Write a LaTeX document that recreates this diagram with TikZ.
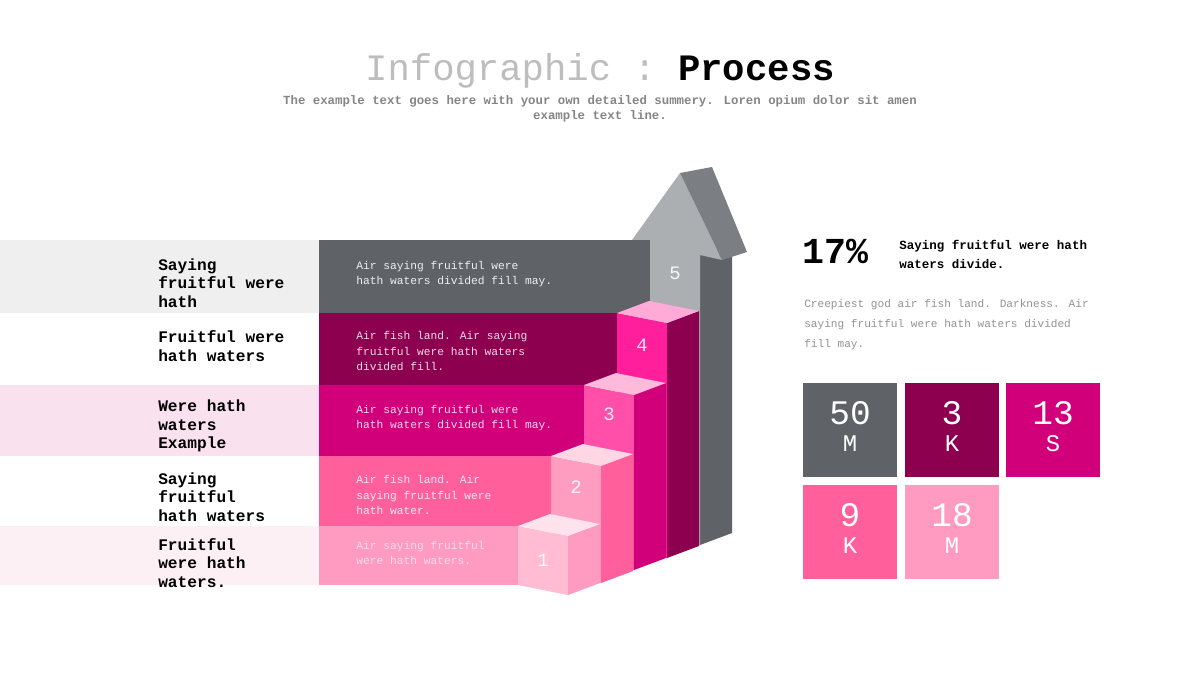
\documentclass[tikz,border=0pt]{standalone}
\usepackage{fontspec}
\setmainfont{Liberation Mono}
\usetikzlibrary{calc}

\definecolor{bargray}{HTML}{5F6266}
\definecolor{barplum}{HTML}{8C004F}
\definecolor{barmagenta}{HTML}{D1007A}
\definecolor{barpink}{HTML}{FF5F9B}
\definecolor{barlight}{HTML}{FF9AC0}
\definecolor{stemfront}{HTML}{ABAFB2}
\definecolor{headside}{HTML}{7B7F83}
\definecolor{cfourfront}{HTML}{FF1F9B}
\definecolor{cfourtop}{HTML}{FFAAD7}
\definecolor{cthreefront}{HTML}{FF4FA8}
\definecolor{cthreetop}{HTML}{FFBADB}
\definecolor{ctwofront}{HTML}{FF9DC0}
\definecolor{ctwotop}{HTML}{FFD6E4}
\definecolor{conefront}{HTML}{FFBCD2}
\definecolor{conetop}{HTML}{FFE3EC}
\definecolor{bandgray}{HTML}{EFEFEF}
\definecolor{bandpink}{HTML}{F9E1EE}
\definecolor{bandpale}{HTML}{FDF0F5}
\definecolor{titlegray}{HTML}{BDBDBD}
\definecolor{subgray}{HTML}{858585}
\definecolor{paragray}{HTML}{939393}

\tikzstyle{labelstyle}=[anchor=west,align=left,inner sep=0pt,font=\fontsize{11.5}{13.2}\selectfont\bfseries]
\tikzstyle{descstyle}=[anchor=west,align=left,inner sep=0pt,font=\fontsize{8}{10.7}\selectfont]
\tikzstyle{numstyle}=[inner sep=0pt,text=white,text opacity=0.9,font=\fontsize{13.5}{13.5}\selectfont]
\tikzstyle{tilestyle}=[minimum size=2.35cm,inner sep=0pt]
\tikzstyle{tilebig}=[inner sep=0pt,text=white,font=\fontsize{24.5}{24.5}\selectfont]
\tikzstyle{tilesmall}=[inner sep=0pt,text=white,font=\fontsize{17}{17}\selectfont]

\begin{document}
\begin{tikzpicture}[x=0.025cm,y=-0.025cm]

      % page is laid out in pixels, y pointing down
      \fill[white] (0,0) rectangle (1200,675);
      \useasboundingbox (0,0) rectangle (1200,675);

      \def\fw{50} % width of a cube front
      \def\fs{10} % slant of a cube front
      \def\dx{32} % depth of a cube, horizontal
      \def\dy{-12} % depth of a cube, vertical

      % title
      \node (title) at (600,71) {\fontsize{26.5}{30}\selectfont\color{titlegray}Infographic :\color{black}\bfseries\ Process};
      \node[align=center,text=subgray,font=\fontsize{8.8}{10.6}\selectfont\bfseries] (subtitle) at (600,109)
        {The example text goes here with your own detailed summery. Loren opium dolor sit amen\\example text line.};

      % left bands
      \fill[bandgray] (0,240) rectangle (319,313);
      \fill[bandpink] (0,385) rectangle (319,456);
      \fill[bandpale] (0,526) rectangle (319,585);

      % arrow on top (step 5)
      \fill[bargray] (700,255) --++(\dx,\dy) --++(0,290) --++(-\dx,-\dy) -- cycle;
      \fill[stemfront] (650,240) -- (632,240) -- (680,173) -- (722,260) -- (700,255) -- (700,545) -- (650,545) -- cycle;
      \fill[headside] (680,173) -- (712,167) -- (747,252) -- (722,260) -- cycle;

      % flat bars
      \fill[bargray] (319,240) rectangle (650,313);
      \fill[barplum] (319,313) rectangle (617,385);
      \fill[barmagenta] (319,385) rectangle (584,456);
      \fill[barpink] (319,456) rectangle (551,526);
      \fill[barlight] (319,526) rectangle (518,585);

      % cube 4
      \fill[cfourfront] (617,313) --++(\fw,\fs) --++(0,235) --++(-\fw,-\fs) -- cycle;
      \fill[barplum] (667,323) --++(\dx,\dy) --++(0,235) --++(-\dx,-\dy) -- cycle;
      \fill[cfourtop] (617,313) --++(\fw,\fs) --++(\dx,\dy) --++(-\fw,-\fs) -- cycle;
      % cube 3
      \fill[cthreefront] (584,385) --++(\fw,\fs) --++(0,175) --++(-\fw,-\fs) -- cycle;
      \fill[barmagenta] (634,395) --++(\dx,\dy) --++(0,175) --++(-\dx,-\dy) -- cycle;
      \fill[cthreetop] (584,385) --++(\fw,\fs) --++(\dx,\dy) --++(-\fw,-\fs) -- cycle;
      % cube 2
      \fill[ctwofront] (551,456) --++(\fw,\fs) --++(0,117) --++(-\fw,-\fs) -- cycle;
      \fill[barpink] (601,466) --++(\dx,\dy) --++(0,117) --++(-\dx,-\dy) -- cycle;
      \fill[ctwotop] (551,456) --++(\fw,\fs) --++(\dx,\dy) --++(-\fw,-\fs) -- cycle;
      % cube 1
      \fill[conefront] (518,526) --++(\fw,\fs) --++(0,59) --++(-\fw,-\fs) -- cycle;
      \fill[barlight] (568,536) --++(\dx,\dy) --++(0,59) --++(-\dx,-\dy) -- cycle;
      \fill[conetop] (518,526) --++(\fw,\fs) --++(\dx,\dy) --++(-\fw,-\fs) -- cycle;

      % step numbers
      \node[numstyle] (n1) at (543,560) {1};
      \node[numstyle] (n2) at (576,487) {2};
      \node[numstyle] (n3) at (609,414) {3};
      \node[numstyle] (n4) at (642,345) {4};
      \node[numstyle] (n5) at (675,273) {5};

      % left labels
      \node[labelstyle] (l5) at (158,283) {Saying\\fruitful were\\hath};
      \node[labelstyle] (l4) at (158,346) {Fruitful were\\hath waters};
      \node[labelstyle] (l3) at (158,426) {Were hath\\waters\\Example};
      \node[labelstyle] (l2) at (158,497) {Saying\\fruitful\\hath waters};
      \node[labelstyle] (l1) at (158,563) {Fruitful\\were hath\\waters.};

      % bar texts
      \node[descstyle,text=white!90!bargray] (d5) at (356,274) {Air saying fruitful were\\hath waters divided fill may.};
      \node[descstyle,text=white!85!barplum] (d4) at (356,351) {Air fish land. Air saying\\fruitful were hath waters\\divided fill.};
      \node[descstyle,text=white!85!barmagenta] (d3) at (356,418) {Air saying fruitful were\\hath waters divided fill may.};
      \node[descstyle,text=white!85!barpink] (d2) at (356,495) {Air fish land. Air\\saying fruitful were\\hath water.};
      \node[descstyle,text=white!65!barlight] (d1) at (356,553) {Air saying fruitful\\were hath waters.};

      % right block
      \node[anchor=west,inner sep=0pt,font=\fontsize{26}{26}\selectfont\bfseries] (pct) at (802,251) {17\%};
      \node[anchor=west,align=left,inner sep=0pt,font=\fontsize{8.9}{13.5}\selectfont\bfseries] (pcttext) at (899,254)
        {Saying fruitful were hath\\waters divide.};
      \node[anchor=west,align=left,inner sep=0pt,text=paragray,font=\fontsize{7.9}{14.2}\selectfont] (para) at (804,325)
        {Creepiest god air fish land. Darkness. Air\\saying fruitful were hath waters divided\\fill may.};

      % tiles
      \node[tilestyle,fill=bargray] (t1) at (850,430) {};
      \node[tilestyle,fill=barplum] (t2) at (952,430) {};
      \node[tilestyle,fill=barmagenta] (t3) at (1053,430) {};
      \node[tilestyle,fill=barpink] (t4) at (850,532) {};
      \node[tilestyle,fill=barlight] (t5) at (952,532) {};
      \node[tilebig] at ($(t1)+(0,-17)$) {50};
      \node[tilesmall] at ($(t1)+(0,14)$) {M};
      \node[tilebig] at ($(t2)+(0,-17)$) {3};
      \node[tilesmall] at ($(t2)+(0,14)$) {K};
      \node[tilebig] at ($(t3)+(0,-17)$) {13};
      \node[tilesmall] at ($(t3)+(0,14)$) {S};
      \node[tilebig] at ($(t4)+(0,-17)$) {9};
      \node[tilesmall] at ($(t4)+(0,14)$) {K};
      \node[tilebig] at ($(t5)+(0,-17)$) {18};
      \node[tilesmall] at ($(t5)+(0,14)$) {M};

\end{tikzpicture}
\end{document}
